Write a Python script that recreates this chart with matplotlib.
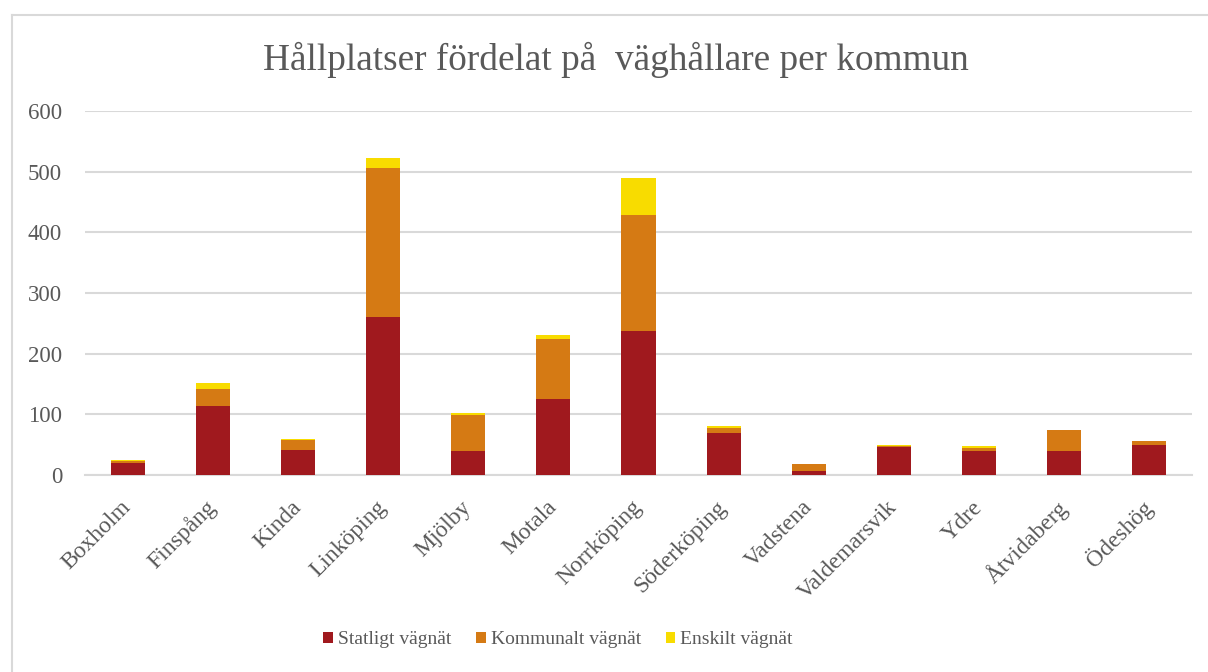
import matplotlib
matplotlib.use("Agg")
import matplotlib.pyplot as plt
from matplotlib.lines import Line2D
from matplotlib.patches import Patch
import numpy as np

plt.rcParams['font.family'] = ['Liberation Serif', 'DejaVu Serif']

kommuner = ["Boxholm", "Finspång", "Kinda", "Linköping", "Mjölby", "Motala",
            "Norrköping", "Söderköping", "Vadstena", "Valdemarsvik", "Ydre",
            "Åtvidaberg", "Ödeshög"]
statligt = [19, 114, 42, 260, 40, 125, 237, 69, 7, 46, 39, 39, 50]
kommunalt = [4, 28, 15, 246, 59, 99, 192, 8, 11, 2, 6, 36, 6]
enskilt = [2, 10, 2, 16, 4, 6, 61, 4, 0, 2, 3, 0, 0]
series_names = ["Statligt vägnät", "Kommunalt vägnät", "Enskilt vägnät"]
colors = ["#A0191E", "#D57A14", "#F8DC00"]
title = "Hållplatser fördelat på  väghållare per kommun"
yticks = [0, 100, 200, 300, 400, 500, 600]

W, H = 1208, 672
fig = plt.figure(figsize=(W / 100, H / 100), dpi=100)
ax = fig.add_axes([85 / W, 1 - 475 / H, (1192 - 85) / W, (475 - 111) / H])

x = np.arange(len(kommuner))
bottom = np.zeros(len(kommuner))
for vals, col, name in zip([statligt, kommunalt, enskilt], colors, series_names):
    ax.bar(x, vals, width=0.4, bottom=bottom, color=col, label=name,
           edgecolor="none", zorder=3)
    bottom += np.array(vals)

ax.set_ylim(0, 600)
ax.set_xlim(-0.5, len(kommuner) - 0.5)
ax.set_yticks(yticks)
ax.set_yticklabels([str(v) for v in yticks])
ax.yaxis.grid(True, color="#d9d9d9", linewidth=1.5, zorder=0)
ax.set_axisbelow(True)
for s in ["top", "right", "left"]:
    ax.spines[s].set_visible(False)
ax.spines["bottom"].set_color("#d9d9d9")
ax.spines["bottom"].set_linewidth(1.5)
ax.tick_params(axis="both", length=0, colors="#595959")
ax.tick_params(axis="y", pad=16.5, labelsize=16.5)
ax.tick_params(axis="x", pad=21, labelsize=17)
ax.set_xticks(x)
ax.set_xticklabels(kommuner, rotation=45, ha="right", va="center",
                   rotation_mode="anchor")

fig.text(616 / W, 1 - 60 / H, title, ha="center", va="center", fontsize=26.8, color="#595959")

handles = [Patch(facecolor=c, edgecolor="none") for c in colors]
fig.legend(handles, series_names, loc="center", bbox_to_anchor=(558 / W, 1 - 640 / H),
           ncol=3, frameon=False, fontsize=14, labelcolor="#595959",
           handlelength=0.5, handleheight=0.5, handletextpad=0.25, columnspacing=1.27)

# chart border
fig.add_artist(Line2D([12 / W, 12 / W], [0, 1 - 15 / H], color="#d9d9d9", linewidth=1.5))
fig.add_artist(Line2D([12 / W, 1], [1 - 15 / H, 1 - 15 / H], color="#d9d9d9", linewidth=1.5))

fig.savefig("out.png", dpi=100)
